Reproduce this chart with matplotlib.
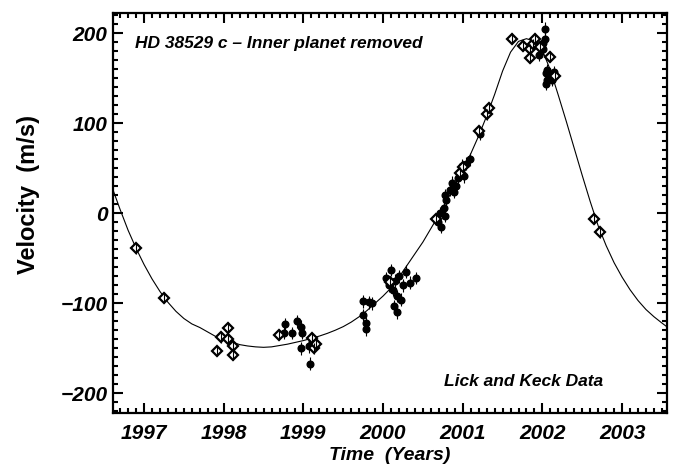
import matplotlib
matplotlib.use("Agg")
import matplotlib.pyplot as plt
from matplotlib.ticker import MultipleLocator

# Lick observations (open diamonds)
lick_t = [1996.90, 1997.25, 1997.91, 1997.97, 1998.05, 1998.05, 1998.12, 1998.12,
          1998.69, 1999.11, 1999.13, 1999.16, 2000.09, 2000.66, 2000.97, 2001.00,
          2001.21, 2001.31, 2001.33, 2001.62, 2001.76, 2001.85, 2001.85, 2001.88,
          2001.91, 2001.97, 2002.09, 2002.16, 2002.65, 2002.72]
lick_v = [-39, -94, -153, -138, -127, -140, -147, -157,
          -135, -139, -150, -145, -76, -6, 45, 51,
          91, 110, 117, 194, 186, 182, 173, 188,
          194, 185, 174, 152, -6, -21]
lick_err = 6.0

# Keck observations (filled circles)
keck_t = [1998.77, 1998.76, 1998.86, 1998.92, 1998.97, 1998.98, 1998.97, 1999.07, 1999.08, 1999.11,
          1999.75, 1999.82, 1999.75, 1999.78, 1999.78, 1999.86,
          2000.04, 2000.08, 2000.10, 2000.13, 2000.15, 2000.18, 2000.20, 2000.23, 2000.25,
          2000.14, 2000.18, 2000.29, 2000.34, 2000.41,
          2000.69, 2000.72, 2000.73, 2000.76, 2000.78, 2000.79, 2000.78, 2000.84, 2000.87,
          2000.89, 2000.92, 2000.94, 2000.97, 2000.99, 2001.02, 2001.04, 2001.09, 2001.22,
          2001.96, 2002.01, 2002.01, 2002.03, 2002.03, 2002.05, 2002.05, 2002.06,
          2002.06, 2002.10, 2002.12, 2002.14]
keck_v = [-123, -133, -133, -120, -126, -133, -150, -148, -167, -143,
          -98, -99, -113, -122, -129, -100,
          -72, -80, -63, -85, -75, -92, -70, -96, -80,
          -103, -110, -65, -77, -72,
          -10, 0, -15, 6, -3, 15, 20, 26, 34,
          24, 30, 39, 46, 53, 41, 55, 60, 88,
          176, 189, 183, 205, 194, 156, 144, 159,
          148, 154, 148, 157]
keck_err = 7.0

# orbit fit
fit_t = [1996.61, 1996.70, 1996.80, 1996.90, 1997.00, 1997.10, 1997.20, 1997.30, 1997.40,
         1997.50, 1997.60, 1997.70, 1997.80, 1997.90, 1998.00, 1998.10, 1998.20, 1998.30,
         1998.40, 1998.50, 1998.60, 1998.70, 1998.80, 1998.90, 1999.00, 1999.10, 1999.20,
         1999.30, 1999.40, 1999.50, 1999.60, 1999.70, 1999.80, 1999.90, 2000.00, 2000.10,
         2000.20, 2000.30, 2000.40, 2000.50, 2000.60, 2000.70, 2000.80, 2000.90, 2001.00,
         2001.10, 2001.20, 2001.30, 2001.40, 2001.50, 2001.60, 2001.70, 2001.80, 2001.90,
         2002.00, 2002.10, 2002.20, 2002.30, 2002.40, 2002.50, 2002.60, 2002.70, 2002.80,
         2002.90, 2003.00, 2003.10, 2003.20, 2003.30, 2003.40, 2003.50, 2003.56]
fit_v = [26, 4, -19, -39, -57, -73, -87, -99, -109,
         -117, -123, -127, -132, -137, -140, -143, -146, -147.5,
         -148.5, -149, -148.5, -147, -145.5, -143.5, -141.5, -139, -136.5,
         -133.5, -130, -126, -121, -115, -108, -100, -92, -83,
         -71, -58, -45, -32, -17, -2, 14, 31, 48,
         66, 86, 108, 132, 158, 179, 191, 194, 191,
         181, 159, 131, 102, 72, 42, 13, -14, -36,
         -55, -71, -85, -97, -107, -115, -122, -126]

plt.rcParams['font.family'] = ['Liberation Sans', 'DejaVu Sans']
plt.rcParams['font.weight'] = 'bold'

fig = plt.figure(figsize=(6.75, 4.68), dpi=100)
ax = fig.add_axes([0.1674, 0.1175, 0.8203, 0.8537])

ax.plot(fit_t, fit_v, color='k', lw=0.8, zorder=2)

ax.plot(keck_t, keck_v, 'o', color='k', ms=4.8, zorder=3)
ax.errorbar(keck_t, keck_v, yerr=keck_err, fmt='none', ecolor='k', elinewidth=0.8, capsize=0, zorder=3)

ax.plot(lick_t, lick_v, 'D', mfc='white', mec='k', ms=5.2, mew=1.6, zorder=4)
ax.errorbar(lick_t, lick_v, yerr=lick_err, fmt='none', ecolor='k', elinewidth=0.8, capsize=0, zorder=5)

ax.set_xlim(1996.61, 2003.56)
ax.set_ylim(-222, 222)
ax.xaxis.set_major_locator(MultipleLocator(1))
ax.xaxis.set_minor_locator(MultipleLocator(0.1))
ax.yaxis.set_major_locator(MultipleLocator(100))
ax.yaxis.set_minor_locator(MultipleLocator(10))

for s in ax.spines.values():
    s.set_linewidth(1.6)
ax.tick_params(which='both', direction='in', top=True, right=True, width=1.5)
ax.tick_params(which='major', length=7)
ax.tick_params(which='minor', length=3.5)
ax.tick_params(axis='x', which='major', pad=8)
ax.tick_params(axis='y', which='major', pad=4)
for lab in ax.get_xticklabels() + ax.get_yticklabels():
    lab.set_fontsize(15)
    lab.set_fontstyle('italic')
    lab.set_fontweight('bold')

ax.text(0.04, 0.924, 'HD 38529 c \u2013 Inner planet removed', transform=ax.transAxes,
        fontsize=12.5, fontstyle='italic', fontweight='bold', ha='left', va='center')
ax.text(0.885, 0.078, 'Lick and Keck Data', transform=ax.transAxes,
        fontsize=12.5, fontstyle='italic', fontweight='bold', ha='right', va='center')

fig.text(0.5776, 0.026, 'Time  (Years)', fontsize=14, fontstyle='italic', fontweight='bold',
         ha='center', va='center')
fig.text(0.042, 0.585, 'Velocity  (m/s)', fontsize=17, fontweight='bold', rotation=90,
         ha='center', va='center')

fig.savefig('out.png', dpi=100)
